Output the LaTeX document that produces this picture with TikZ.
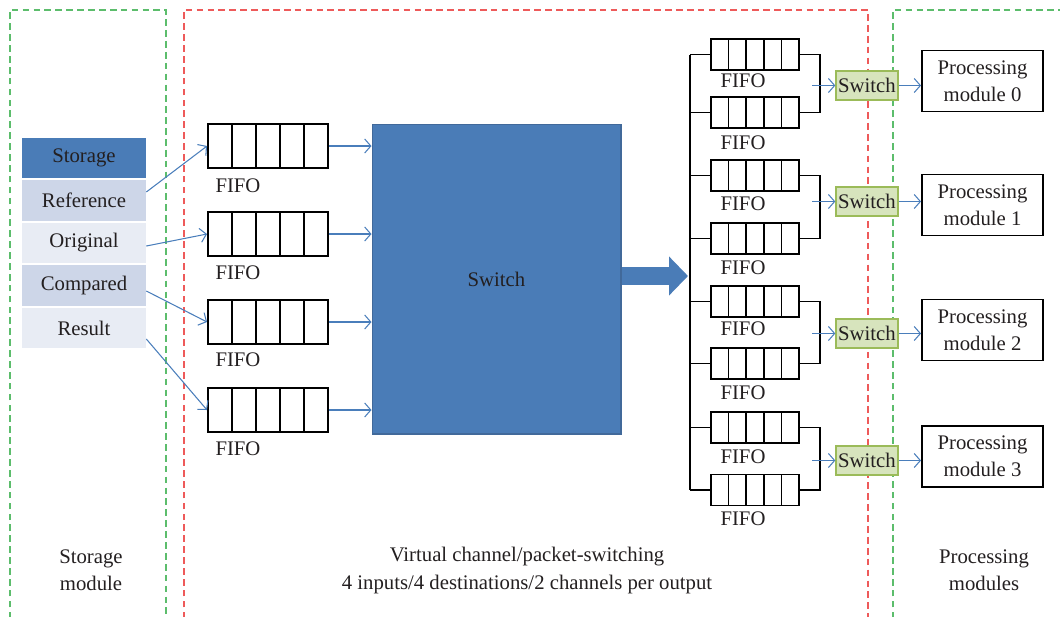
\documentclass[tikz,border=0pt]{standalone}
\usepackage{fontspec}
\setmainfont{Liberation Serif}
\usetikzlibrary{calc,arrows.meta}
\definecolor{ink}{HTML}{231F20}
\definecolor{blk}{HTML}{4A7CB7}
\definecolor{blkline}{HTML}{41699A}
\definecolor{rowmid}{HTML}{CDD6E8}
\definecolor{rowlight}{HTML}{E8ECF4}
\definecolor{wire}{HTML}{4A7EBB}
\definecolor{swfill}{HTML}{D7E4BD}
\definecolor{swline}{HTML}{9BBB59}
\definecolor{zonegreen}{HTML}{5CBD6C}
\definecolor{zonered}{HTML}{EE5A5A}

\begin{document}
\begin{tikzpicture}[x=0.02cm,y=-0.02cm]
\tikzset{
  every node/.style={font=\fontsize{11.8}{15.4}\selectfont, text=ink},
  fifo/.style={draw, line width=1.1pt, inner sep=0pt,
    path picture={\foreach \k in {1,...,4}
      \draw[line width=0.9pt] ($(path picture bounding box.north west)!\k/5!(path picture bounding box.north east)$)
        -- ($(path picture bounding box.south west)!\k/5!(path picture bounding box.south east)$);}},
  bigfifo/.style={fifo, minimum width=2.4cm, minimum height=0.88cm},
  tinyfifo/.style={fifo, minimum width=1.76cm, minimum height=0.62cm},
  cell/.style={minimum width=2.48cm, minimum height=0.81cm, inner sep=0pt},
  flow/.style={draw=wire, line width=0.6pt, -{Straight Barb[length=3.5pt, width=8pt]}},
  minisw/.style={draw=swline, fill=swfill, line width=0.8pt, minimum width=1.24cm, minimum height=0.58cm, inner sep=0pt},
  procbox/.style={draw, line width=1.1pt, minimum width=2.42cm, minimum height=1.22cm, align=center, inner sep=0pt},
  bus/.style={line width=1.1pt},
  zone/.style={line width=0.8pt, dash pattern=on 3.8pt off 2.4pt}
}
\useasboundingbox (0,0) rectangle (1060,616);
\clip (0,0) rectangle (1060,616);

\draw[zone, zonegreen] (10,640) -- (10,10) -- (166,10) -- (166,640);
\draw[zone, zonered] (184,640) -- (184,10) -- (868,10) -- (868,640);
\draw[zone, zonegreen] (893,640) -- (893,10) -- (1070,10);

\node[cell, fill=blk] (Q1) at (84,158) {Storage};
\node[cell, fill=rowmid] (Q2) at (84,200.5) {Reference};
\node[cell, fill=rowlight] (Q3) at (84,243) {Original};
\node[cell, fill=rowmid] (Q4) at (84,285.5) {Compared};
\node[cell, fill=rowlight] (Q5) at (84,328) {Result};

\node[bigfifo] (F1) at (268,146) {};
\node[bigfifo] (F2) at (268,234) {};
\node[bigfifo] (F3) at (268,322) {};
\node[bigfifo] (F4) at (268,410) {};
\node (L1) at (238,186) {FIFO};
\node (L2) at (238,273) {FIFO};
\node (L3) at (238,360) {FIFO};
\node (L4) at (238,449) {FIFO};

\node[draw=blkline, fill=blk, line width=0.6pt, minimum width=4.98cm, minimum height=6.2cm] (SW) at (496.5,279) {Switch};

\draw[flow] ([yshift=0.17cm]Q2.east) -- (F1.west);
\draw[flow] ([yshift=-0.06cm]Q3.east) -- (F2.west);
\draw[flow] ([yshift=-0.11cm]Q4.east) -- (F3.west);
\draw[flow] ([yshift=-0.22cm]Q5.east) -- (F4.west);
\draw[flow] (F1.east) -- (F1.east -| SW.west);
\draw[flow] (F2.east) -- (F2.east -| SW.west);
\draw[flow] (F3.east) -- (F3.east -| SW.west);
\draw[flow] (F4.east) -- (F4.east -| SW.west);

\node[tinyfifo] (G1) at (755,54.5) {};
\node[tinyfifo] (G2) at (755,112.5) {};
\node[tinyfifo] (G3) at (755,175.5) {};
\node[tinyfifo] (G4) at (755,238.5) {};
\node[tinyfifo] (G5) at (755,301.5) {};
\node[tinyfifo] (G6) at (755,363.5) {};
\node[tinyfifo] (G7) at (755,427.5) {};
\node[tinyfifo] (G8) at (755,490) {};
\node (K1) at (743,81) {FIFO};
\node (K2) at (743,143) {FIFO};
\node (K3) at (743,204) {FIFO};
\node (K4) at (743,268) {FIFO};
\node (K5) at (743,329) {FIFO};
\node (K6) at (743,393) {FIFO};
\node (K7) at (743,457) {FIFO};
\node (K8) at (743,519) {FIFO};

\coordinate (B0) at (690,54.5);
\coordinate (B1) at (690,490);
\coordinate (BIn) at (688,276);
\draw[line width=0.36cm, blk, -{Triangle[width=0.76cm, length=0.38cm]}] (SW.east |- BIn) -- (BIn);
\draw[bus] (B0) -- (B1);
\draw[bus] (G1.west) -- (G1.west -| B0);
\draw[bus] (G2.west) -- (G2.west -| B0);
\draw[bus] (G3.west) -- (G3.west -| B0);
\draw[bus] (G4.west) -- (G4.west -| B0);
\draw[bus] (G5.west) -- (G5.west -| B0);
\draw[bus] (G6.west) -- (G6.west -| B0);
\draw[bus] (G7.west) -- (G7.west -| B0);
\draw[bus] (G8.west) -- (G8.west -| B0);

\draw[bus] (G1.east) -- ++(20,0) |- (G2.east);
\draw[bus] (G3.east) -- ++(20,0) |- (G4.east);
\draw[bus] (G5.east) -- ++(20,0) |- (G6.east);
\draw[bus] (G7.east) -- ++(20,0) |- (G8.east);

\node[minisw] (M1) at (867,85.5) {Switch};
\node[minisw] (M2) at (867,201.5) {Switch};
\node[minisw] (M3) at (867,333.5) {Switch};
\node[minisw] (M4) at (867,460.5) {Switch};
\coordinate (J1) at (812,85.5);
\coordinate (J2) at (812,201.5);
\coordinate (J3) at (812,333.5);
\coordinate (J4) at (812,460.5);
\draw[flow] (J1) -- (M1.west);
\draw[flow] (J2) -- (M2.west);
\draw[flow] (J3) -- (M3.west);
\draw[flow] (J4) -- (M4.west);

\node[procbox] (P1) at (982.5,81) {Processing\\module 0};
\node[procbox] (P2) at (982.5,205) {Processing\\module 1};
\node[procbox] (P3) at (982.5,330) {Processing\\module 2};
\node[procbox] (P4) at (982.5,456.5) {Processing\\module 3};
\draw[flow] (M1.east) -- (M1.east -| P1.west);
\draw[flow] (M2.east) -- (M2.east -| P2.west);
\draw[flow] (M3.east) -- (M3.east -| P3.west);
\draw[flow] (M4.east) -- (M4.east -| P4.west);

\node[align=center] (T1) at (91,570.5) {Storage\\module};
\node[align=center] (T2) at (527,570.5) {Virtual channel/packet-switching\\4 inputs/4 destinations/2 channels per output};
\node[align=center] (T3) at (984,570.5) {Processing\\modules};
\end{tikzpicture}
\end{document}
